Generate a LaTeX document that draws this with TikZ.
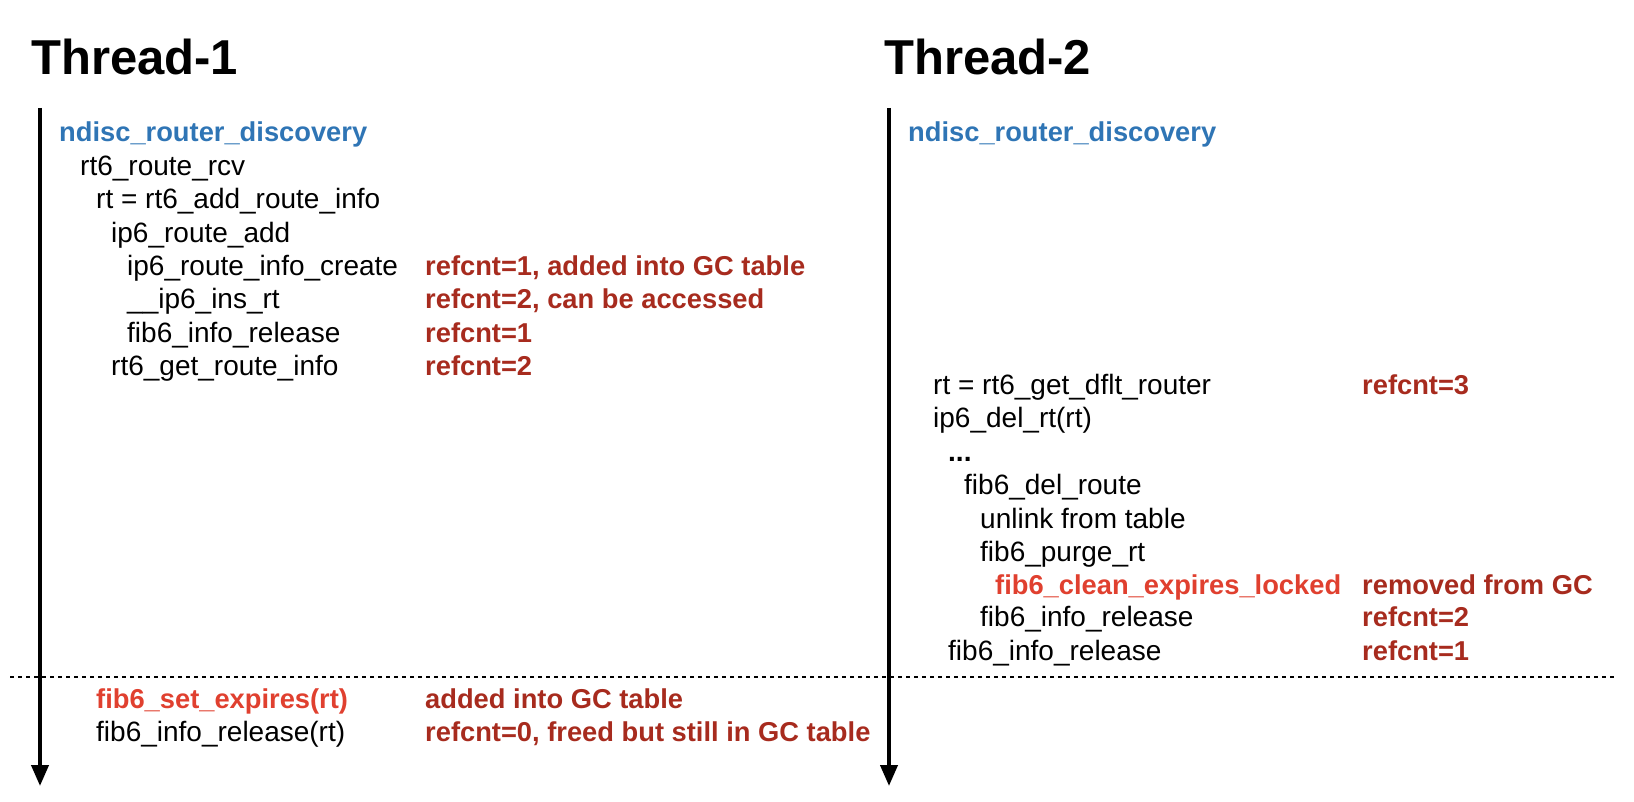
\documentclass[tikz,border=0pt]{standalone}
\usepackage{fontspec}
\setmainfont{Liberation Sans}
\usetikzlibrary{arrows.meta}
\definecolor{callblue}{RGB}{47,117,181}
\definecolor{notered}{RGB}{167,43,30}
\definecolor{hotred}{RGB}{224,64,47}
\tikzset{
  threadtitle/.style={anchor=base west,inner sep=0pt,
    font=\fontsize{49}{59}\selectfont\bfseries},
  fn/.style={anchor=base west,inner sep=0pt,
    font=\fontsize{28}{33}\selectfont},
  entry/.style={fn,font=\fontsize{27.3}{33}\selectfont\bfseries,text=callblue},
  hotfn/.style={fn,font=\fontsize{27.3}{33}\selectfont\bfseries,text=hotred},
  note/.style={fn,font=\fontsize{27.3}{33}\selectfont\bfseries,text=notered},
  timeline/.style={-{Triangle[length=21pt,width=17pt]},line width=4pt},
  barrier/.style={dash pattern=on 4pt off 4pt,line width=2pt}
}

\begin{document}
\begin{tikzpicture}[x=1pt,y=-1pt]
  \useasboundingbox (0,0) rectangle (1634,802);
  % thread headers and time axes
  \node[threadtitle] (title1) at (31,75) {Thread-1};
  \node[threadtitle] (title2) at (884,75) {Thread-2};
  \coordinate (t1start) at (40,108);
  \coordinate (t1end) at (40,786);
  \coordinate (t2start) at (889,108);
  \coordinate (t2end) at (889,786);
  \draw[timeline] (t1start) -- (t1end);
  \draw[timeline] (t2start) -- (t2end);
  \coordinate (racel) at (10,677);
  \coordinate (racer) at (1614,677);
  \draw[barrier] (racel) -- (racer);

  % thread 1
  \node[entry] (a0) at (59,142) {ndisc\_router\_discovery};
  \node[fn] (a1) at (80,175.5) {rt6\_route\_rcv};
  \node[fn] (a2) at (96,209) {rt = rt6\_add\_route\_info};
  \node[fn] (a3) at (111,242.5) {ip6\_route\_add};
  \node[fn] (a4) at (127,276) {ip6\_route\_info\_create};
  \node[fn] (a5) at (127,309) {\_\_ip6\_ins\_rt};
  \node[fn] (a6) at (127,342.5) {fib6\_info\_release};
  \node[fn] (a7) at (111,376) {rt6\_get\_route\_info};
  \node[note] (n4) at (425,276) {refcnt=1, added into GC table};
  \node[note] (n5) at (425,309) {refcnt=2, can be accessed};
  \node[note] (n6) at (425,342.5) {refcnt=1};
  \node[note] (n7) at (425,376) {refcnt=2};
  \node[hotfn] (a8) at (96,708) {fib6\_set\_expires(rt)};
  \node[fn] (a9) at (96,741) {fib6\_info\_release(rt)};
  \node[note] (n8) at (425,708) {added into GC table};
  \node[note] (n9) at (425,741) {refcnt=0, freed but still in GC table};

  % thread 2
  \node[entry] (b0) at (908,142) {ndisc\_router\_discovery};
  \node[fn] (b1) at (933,394.5) {rt = rt6\_get\_dflt\_router};
  \node[fn] (b2) at (933,428) {ip6\_del\_rt(rt)};
  \node[fn,font=\fontsize{28}{33}\selectfont\bfseries] (b3) at (948,461) {...};
  \node[fn] (b4) at (964,494.5) {fib6\_del\_route};
  \node[fn] (b5) at (980,528) {unlink from table};
  \node[fn] (b6) at (980,561) {fib6\_purge\_rt};
  \node[hotfn] (b7) at (995,594.5) {fib6\_clean\_expires\_locked};
  \node[fn] (b8) at (980,626) {fib6\_info\_release};
  \node[fn] (b9) at (948,660) {fib6\_info\_release};
  \node[note] (m1) at (1362,394.5) {refcnt=3};
  \node[note] (m7) at (1362,594.5) {removed from GC};
  \node[note] (m8) at (1362,626) {refcnt=2};
  \node[note] (m9) at (1362,660) {refcnt=1};
\end{tikzpicture}
\end{document}
